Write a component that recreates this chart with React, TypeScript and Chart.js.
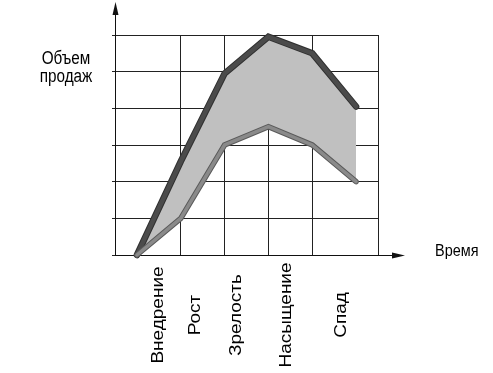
import React, { useEffect, useRef } from "react";
import { Chart, registerables } from "chart.js";

Chart.register(...registerables);

// Product life cycle
const stageX: number[] = [0, 1, 2, 3, 4, 5];
const upperSales: number[] = [0, 2.55, 4.95, 5.95, 5.5, 4.05];
const lowerSales: number[] = [0, 1.0, 3.0, 3.5, 3.0, 2.0];
const stageLabels: string[] = ["Внедрение", "Рост", "Зрелость", "Насыщение", "Спад"];
const stageLabelAt: number[] = [0.47, 1.31, 2.24, 3.38, 4.63];
const xGridTicks: number[] = [-0.5, 1, 2, 3, 4, 5.5];
const yGridTicks: number[] = [0, 1, 2, 3, 4, 5, 6];
const yAxisTitle: string[] = ["Объем", "продаж"];
const xAxisTitle = "Время";

const FONT = '"Liberation Sans", Arial, sans-serif';
const SQUEEZE = 0.85;

const decorPlugin = {
  id: "decor",
  afterDraw(chart: any) {
    const { ctx, chartArea } = chart;
    const { left, right, top, bottom } = chartArea;
    const xs = chart.scales.x;
    ctx.save();
    ctx.strokeStyle = "#111";
    ctx.fillStyle = "#111";
    ctx.lineWidth = 1;
    // y axis extension + arrow
    ctx.beginPath();
    ctx.moveTo(left + 0.5, top);
    ctx.lineTo(left + 0.5, top - 22);
    ctx.stroke();
    ctx.beginPath();
    ctx.moveTo(left + 0.5, top - 33);
    ctx.lineTo(left - 2.5, top - 20);
    ctx.lineTo(left + 3.5, top - 20);
    ctx.closePath();
    ctx.fill();
    // x axis extension + arrow
    ctx.beginPath();
    ctx.moveTo(right, bottom + 0.5);
    ctx.lineTo(right + 16, bottom + 0.5);
    ctx.stroke();
    ctx.beginPath();
    ctx.moveTo(right + 27, bottom + 0.5);
    ctx.lineTo(right + 14, bottom - 2.5);
    ctx.lineTo(right + 14, bottom + 3.5);
    ctx.closePath();
    ctx.fill();

    // axis titles
    ctx.fillStyle = "#000";
    ctx.font = "18px " + FONT;
    ctx.textAlign = "center";
    ctx.textBaseline = "alphabetic";
    yAxisTitle.forEach((t, i) => {
      ctx.save();
      ctx.translate(left - 49, top + 29 + i * 18);
      ctx.scale(SQUEEZE, 1);
      ctx.fillText(t, 0, 0);
      ctx.restore();
    });
    ctx.save();
    ctx.font = "17px " + FONT;
    ctx.textAlign = "left";
    ctx.translate(right + 57, bottom + 1);
    ctx.scale(SQUEEZE, 1);
    ctx.fillText(xAxisTitle, 0, 0);
    ctx.restore();

    // stage labels (rotated)
    const fs = 19;
    ctx.font = fs + "px " + FONT;
    ctx.textAlign = "center";
    stageLabels.forEach((t, i) => {
      const px = xs.getPixelForValue(stageLabelAt[i]);
      ctx.save();
      ctx.translate(px + fs * 0.36 * SQUEEZE, bottom + 60);
      ctx.rotate(-Math.PI / 2);
      ctx.scale(1, SQUEEZE);
      ctx.fillText(t, 0, 0);
      ctx.restore();
    });
    ctx.restore();
  },
};

export default function App() {
  const ref = useRef<HTMLCanvasElement | null>(null);
  useEffect(() => {
    document.body.style.margin = "0";
    if (!ref.current) return;
    const pts = (ys: number[]) => stageX.map((x, i) => ({ x, y: ys[i] }));
    const chart = new Chart(ref.current, {
      type: "line",
      data: {
        datasets: [
          {
            data: pts(lowerSales),
            borderColor: "#8a8a8a",
            borderWidth: 3.5,
            pointRadius: 0,
            borderCapStyle: "round",
            fill: false,
            clip: false,
          },
          {
            data: pts(lowerSales),
            borderColor: "#5a5a5a",
            borderWidth: 5.5,
            pointRadius: 0,
            borderCapStyle: "round",
            fill: false,
            clip: false,
          },
          {
            data: pts(upperSales),
            borderColor: "#4b4b4b",
            borderWidth: 4.5,
            pointRadius: 0,
            borderCapStyle: "round",
            fill: false,
            clip: false,
          },
          {
            data: pts(upperSales),
            borderColor: "#303030",
            borderWidth: 6.5,
            pointRadius: 0,
            borderCapStyle: "round",
            backgroundColor: "#c0c0c0",
            fill: 1,
            clip: false,
          },
        ],
      } as any,
      options: {
        animation: false,
        responsive: false,
        events: [],
        layout: { padding: { left: 112, right: 115, top: 35, bottom: 118 } },
        plugins: {
          legend: { display: false },
          tooltip: { enabled: false },
          filler: { drawTime: "beforeDatasetsDraw" },
        } as any,
        scales: {
          x: {
            type: "linear",
            min: -0.5,
            max: 5.5,
            afterBuildTicks: (s: any) => {
              s.ticks = xGridTicks.map((v) => ({ value: v }));
            },
            ticks: { display: false },
            grid: { color: "#222", lineWidth: 1, drawTicks: false },
            border: { display: true, color: "#111", width: 1 },
          },
          y: {
            type: "linear",
            min: 0,
            max: 6,
            afterBuildTicks: (s: any) => {
              s.ticks = yGridTicks.map((v) => ({ value: v }));
            },
            ticks: { display: false },
            grid: { color: "#222", lineWidth: 1, drawTicks: true, tickLength: 3 },
            border: { display: true, color: "#111", width: 1 },
          },
        },
      } as any,
      plugins: [decorPlugin],
    });
    return () => chart.destroy();
  }, []);
  return (
    <canvas
      ref={ref}
      width={493}
      height={373}
      style={{ display: "block", width: 493, height: 373, background: "#fff" }}
    />
  );
}
